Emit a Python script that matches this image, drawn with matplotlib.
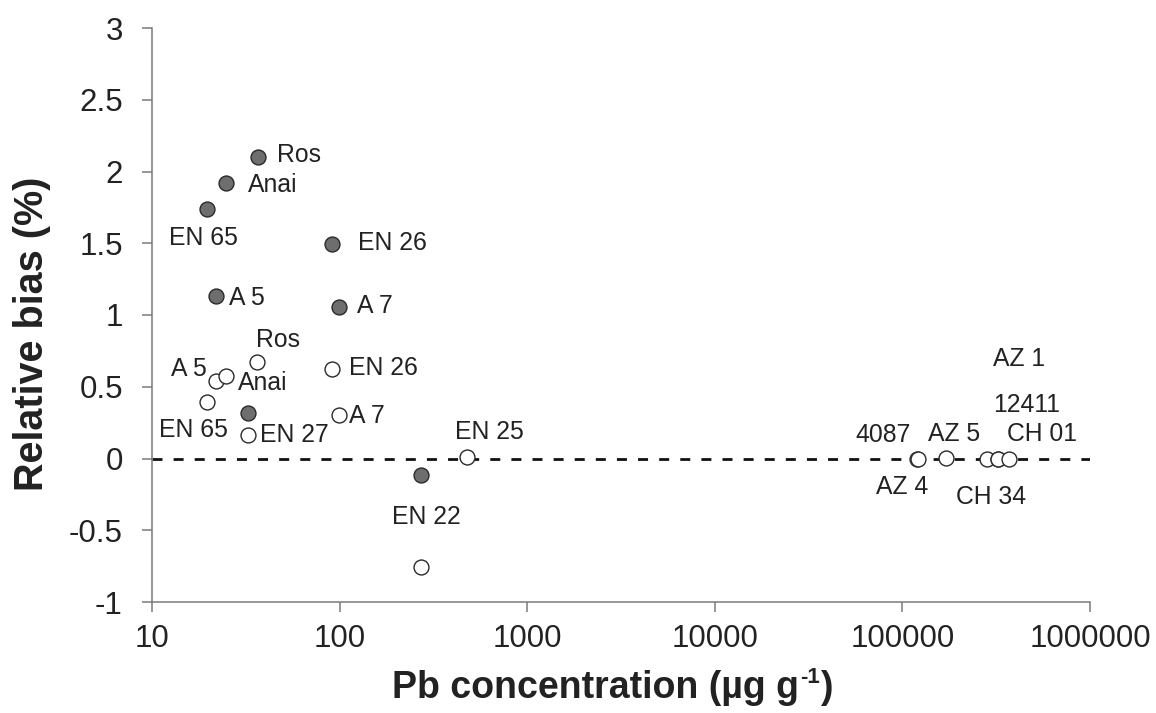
import matplotlib
matplotlib.use("Agg")
import matplotlib.pyplot as plt
from matplotlib.ticker import FixedLocator, NullLocator

plt.rcParams['font.family'] = ['Liberation Sans', 'DejaVu Sans']

# ---- data ----
filled_names = ["Ros", "Anai", "EN 65", "EN 26", "A 5", "A 7", "EN 27", "EN 22"]
filled_conc = [36.7, 24.8, 19.6, 91.5, 21.9, 99.3, 32.5, 272]
filled_bias = [2.10, 1.92, 1.74, 1.494, 1.132, 1.055, 0.315, -0.117]
filled_show_label = [True, True, True, True, True, True, False, False]

open_names = ["Ros", "A 5", "Anai", "EN 26", "EN 65", "A 7", "EN 27", "EN 25", "EN 22",
              "4087", "AZ 4", "AZ 5", "CH 34", "AZ 1", "12411", "CH 01"]
open_conc = [36.3, 21.9, 24.8, 91.5, 19.6, 99.3, 32.5, 479, 272,
             120000, 121000, 170800, 282400, 323400, 325000, 370000]
open_bias = [0.671, 0.539, 0.574, 0.623, 0.392, 0.30, 0.162, 0.008, -0.759,
             0.0, 0.0, 0.002, -0.005, 0.0, 0.0, -0.005]

x_ticks = [10, 100, 1000, 10000, 100000, 1000000]
x_tick_labels = ["10", "100", "1000", "10000", "100000", "1000000"]
y_ticks = [-1, -0.5, 0, 0.5, 1, 1.5, 2, 2.5, 3]
y_tick_labels = ["-1", "-0.5", "0", "0.5", "1", "1.5", "2", "2.5", "3"]

# label offsets in pixels (dx, dy, ha)
filled_offsets = [(19, 2, 'left'), (22, -2, 'left'), (-38, -29, 'left'), (26, 1, 'left'),
                  (13, -2, 'left'), (18, 1, 'left'), (0, 0, 'left'), (0, 0, 'left')]
open_offsets = [(-1, 22, 'left'), (-9, 12, 'right'), (12, -7, 'left'), (17, 1, 'left'),
                (-48, -28, 'left'), (10, -1, 'left'), (12, 0, 'left'), (-12, 25, 'left'),
                (-29, 50, 'left'), (-62, 24, 'left'), (-42, -28, 'left'), (-18, 24, 'left'),
                (-31, -38, 'left'), (-5, 100, 'left'), (-5, 54, 'left'), (-2, 25, 'left')]

TXT = '#222222'
fig = plt.figure(figsize=(11.56, 7.13), dpi=100)
ax = fig.add_axes([152/1156, 1 - 602/713, (1090 - 152)/1156, (602 - 28)/713])

ax.set_xscale('log')
ax.set_xlim(10, 1000000)
ax.set_ylim(-1, 3)

ax.plot([10, 1000000], [0, 0], color='#111111', lw=2.0, linestyle=(0, (3.6, 4.0)), zorder=1)

ax.scatter(filled_conc, filled_bias, s=115, facecolor='#6e6e6e', edgecolor='#2a2a2a',
           linewidths=1.0, zorder=3)
ax.scatter(open_conc, open_bias, s=115, facecolor='white', edgecolor='#2a2a2a',
           linewidths=1.0, zorder=3)

for name, x, y, show, (dx, dy, ha) in zip(filled_names, filled_conc, filled_bias,
                                          filled_show_label, filled_offsets):
    if show:
        ax.annotate(name, (x, y), xytext=(dx, dy), textcoords='offset pixels',
                    ha=ha, va='center', fontsize=17.8, color=TXT, zorder=4)
for name, x, y, (dx, dy, ha) in zip(open_names, open_conc, open_bias, open_offsets):
    ax.annotate(name, (x, y), xytext=(dx, dy), textcoords='offset pixels',
                ha=ha, va='center', fontsize=17.8, color=TXT, zorder=4)

ax.xaxis.set_major_locator(FixedLocator(x_ticks))
ax.xaxis.set_minor_locator(NullLocator())
ax.set_xticklabels(x_tick_labels)
ax.set_yticks(y_ticks)
ax.set_yticklabels(y_tick_labels)

for s in ['top', 'right']:
    ax.spines[s].set_visible(False)
for s in ['left', 'bottom']:
    ax.spines[s].set_color('#7a7a7a')
    ax.spines[s].set_linewidth(1.1)

ax.tick_params(axis='both', direction='out', length=7.5, width=1.1, color='#7a7a7a',
               labelsize=22.5, labelcolor=TXT)
ax.tick_params(axis='y', pad=13.5)
ax.tick_params(axis='x', pad=8.5)

# x label composed of pieces for a small plain superscript
fig.canvas.draw()
renderer = fig.canvas.get_renderer()
W, H = 1156, 713
xl_fs = 27
sup_fs = 16
t1 = fig.text(0, 0, "Pb concentration (µg g", ha='left', va='baseline',
              fontsize=xl_fs, fontweight='bold', color=TXT)
t2 = fig.text(0, 0, "-1", ha='left', va='baseline', fontsize=sup_fs,
              fontweight='bold', color=TXT)
t3 = fig.text(0, 0, ")", ha='left', va='baseline', fontsize=xl_fs,
              fontweight='bold', color=TXT)
w1 = t1.get_window_extent(renderer).width
w2 = t2.get_window_extent(renderer).width
w3 = t3.get_window_extent(renderer).width
total = w1 + w2 + w3
x0 = 612 - total / 2
base = H - 698
t1.set_position((x0 / W, base / H))
t2.set_position(((x0 + w1 + 1) / W, (base + 15) / H))
t3.set_position(((x0 + w1 + w2 + 1) / W, base / H))

fig.text(32/1156, 1 - 334/713, "Relative bias (%)", rotation=90, ha='center', va='center',
         fontsize=28.5, fontweight='bold', color=TXT)

fig.savefig("out.png", dpi=100)
